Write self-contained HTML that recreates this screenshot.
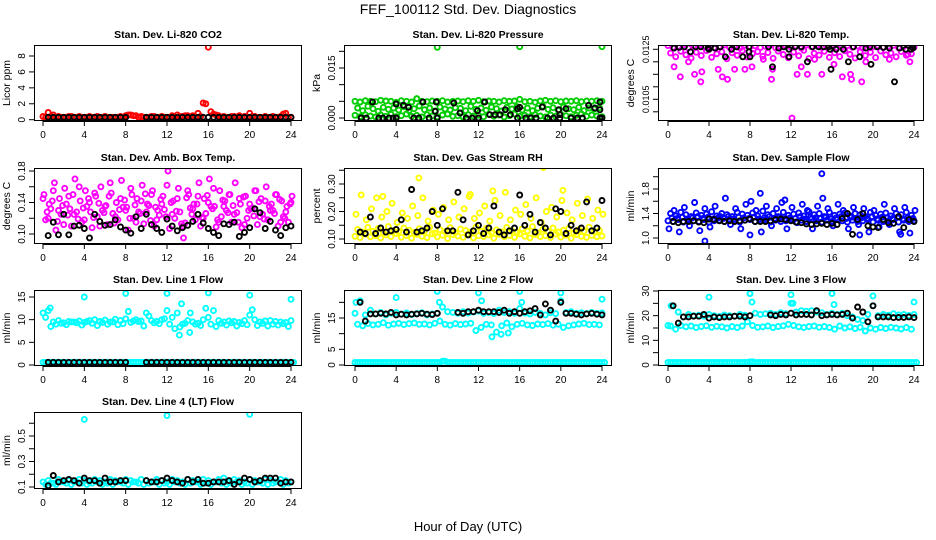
<!DOCTYPE html>
<html><head><meta charset="utf-8">
<style>
html,body{margin:0;padding:0;background:#fff;}
svg{display:block;font-family:"Liberation Sans",sans-serif;}
</style></head>
<body>
<svg id="chart" width="936" height="540" viewBox="0 0 936 540">
<text x="468" y="14" text-anchor="middle" font-size="14">FEF_100112  Std. Dev. Diagnostics</text>
<text x="468" y="531" text-anchor="middle" font-size="13">Hour of Day (UTC)</text>
</svg>
<script>
const xTicks=[0,4,8,12,16,20,24];
// ---- CO2 ----
const co2Red1=[0.4,0.9,0.6,0.4,0.3,0.4,0.3,0.4,0.3,0.4,0.3,0.3,0.4,0.3,0.3,0.4,0.5,0.6,0.5,0.4,0.3,0.4,0.3,0.4,0.3,0.5,0.6,0.4,0.5,0.5,0.8,2.1,9.1,0.7,0.5,0.4,0.3,0.4,0.5,0.4,0.8,0.4,0.3,0.4,0.3,0.3,0.4,0.8,0.3];
const co2Red2=[0.3,0.4,0.3,0.3,0.3,0.4,0.3,0.3,0.3,0.3,0.4,0.3,0.3,0.3,0.3,0.3,0.6,0.5,0.3,0.3,0.3,0.4,0.3,0.3,0.3,0.3,0.4,0.5,0.3,0.3,0.4,2.0,1.0,0.6,0.3,0.3,0.4,0.3,0.3,0.3,0.4,0.3,0.3,0.3,0.4,0.3,0.7,0.3];
const co2Black=[0.3,0.3,0.3,0.3,0.3,0.3,0.3,0.3,0.3,0.3,0.3,0.3,0.3,0.3,0.3,0.3,null,null,null,0.3,0.3,0.3,0.3,0.3,0.3,0.3,0.3,0.3,0.3,0.3,0.3,0.3,0.3,0.3,0.3,0.3,0.3,0.3,0.3,0.3,0.3,0.3,0.3,0.3,0.3,0.3,0.3,0.3];
// ---- Pressure ----
const prsGreen1=[0.0050,0.0048,0.0052,0.0050,0.0049,0.0053,0.0051,0.0050,0.0047,0.0052,0.0050,0.0048,0.0058,0.0050,0.0049,0.0051,0.0050,0.0052,0.0048,0.0050,0.0051,0.0049,0.0052,0.0050,0.0053,0.0049,0.0051,0.0050,0.0048,0.0052,0.0050,0.0051,0.0056,0.0049,0.0050,0.0047,0.0051,0.0053,0.0050,0.0052,0.0049,0.0051,0.0050,0.0052,0.0049,0.0051,0.0050,0.0052,0.0050];
const prsGreen2=[0.0030,0.0022,0.0035,0.0028,0.0020,0.0032,0.0026,0.0030,0.0024,0.0034,0.0022,0.0028,0.0036,0.0025,0.0030,0.0021,0.0033,0.0027,0.0024,0.0031,0.0029,0.0022,0.0035,0.0026,0.0030,0.0023,0.0033,0.0028,0.0021,0.0032,0.0027,0.0034,0.0024,0.0030,0.0022,0.0029,0.0035,0.0026,0.0031,0.0023,0.0033,0.0028,0.0025,0.0032,0.0022,0.0030,0.0027,0.0031];
const prsGreen3=[0.0008,0.0004,0.0010,0.0006,0.0003,0.0009,0.0005,0.0011,0.0004,0.0007,0.0012,0.0005,0.0008,0.0003,0.0010,0.0006,0.0004,0.0009,0.0012,0.0005,0.0007,0.0003,0.0010,0.0006,0.0008,0.0004,0.0011,0.0005,0.0009,0.0003,0.0007,0.0012,0.0005,0.0008,0.0004,0.0010,0.0006,0.0003,0.0009,0.0005,0.0011,0.0007,0.0004,0.0008,0.0012,0.0005,0.0009,0.0006,0.0004];
const prsGreenOut=[[8,0.0212],[16,0.0214],[24,0.0214],[6,0.0058]];
const prsBlack=[[0.6,0],[1.1,0],[1.7,0.0048],[2.3,0],[2.7,0],[3.3,0],[3.7,0],[4.0,0.0042],[4,0],[4.7,0.0038],[5.2,0.0032],[5.7,0],[6.2,0],[6.6,0.0048],[7.2,0],[7.8,0.0020],[7.9,0.0048],[8,0],[9.6,0.0045],[10.2,0.0015],[10.8,0],[11.4,0],[11.9,0.0022],[12,0],[12.6,0.0048],[13.1,0.0010],[13.6,0.0010],[14.1,0.0010],[14.6,0.0025],[15.1,0.0010],[15.8,0.0028],[15.8,0],[16.0,0.0032],[16.6,0],[17.1,0],[17.6,0],[18.2,0.0033],[18.7,0],[19.3,0],[19.8,0.0025],[19.9,0.0010],[19.9,0],[20.5,0.0028],[21,0],[21.6,0],[22.1,0],[22.7,0.0038],[23.3,0.0030],[23.8,0.0048],[23.8,0.0025],[23.8,0],[24,0]];
// ---- Li-820 Temp ----
const tmpMag1=[0.01265,0.01258,0.01262,0.01268,0.01255,0.01262,0.01266,0.01259,0.01264,0.01256,0.01261,0.01267,0.01258,0.01263,0.01255,0.01266,0.01260,0.01264,0.01257,0.01262,0.01268,0.01256,0.01261,0.01265,0.01258,0.01263,0.01255,0.01267,0.01260,0.01264,0.01257,0.01262,0.01266,0.01256,0.01261,0.01265,0.01258,0.01263,0.01255,0.01267,0.01260,0.01264,0.01257,0.01262,0.01266,0.01256,0.01261,0.01265,0.01258];
const tmpMag2=[0.01235,0.01220,0.01242,0.01228,0.01215,0.01238,0.01225,0.01245,0.01218,0.01232,0.01240,0.01212,0.01236,0.01226,0.01244,0.01219,0.01233,0.01241,0.01222,0.01237,0.01214,0.01243,0.01229,0.01216,0.01239,0.01224,0.01246,0.01213,0.01234,0.01227,0.01242,0.01218,0.01236,0.01221,0.01244,0.01230,0.01215,0.01240,0.01225,0.01238,0.01217,0.01243,0.01228,0.01235,0.01220,0.01241,0.01226,0.01232];
const tmpMagOut=[[0.6,0.0118],[1.2,0.0114],[2.0,0.0120],[2.6,0.0115],[3.2,0.0112],[3.3,0.0116],[4.9,0.0117],[5.3,0.0114],[5.8,0.0113],[6.5,0.0117],[7.5,0.0117],[8.2,0.0118],[10.1,0.0113],[10.2,0.0117],[12.1,0.00975],[12.6,0.0115],[13.0,0.0118],[13.6,0.0115],[15.0,0.0115],[16.2,0.0119],[17.0,0.0114],[17.8,0.0115],[17.9,0.0113],[18.9,0.0112],[19.3,0.0120],[23.6,0.0120],[23.4,0.0123],[14.3,0.0121],[9.3,0.0121],[21.6,0.0121]];
const tmpBlack=[[0.6,0.01255],[1.1,0.01258],[1.6,0.0126],[2.2,0.0124],[2.7,0.0126],[3.2,0.0126],[3.9,0.01255],[4.0,0.0125],[4.6,0.01255],[5.1,0.0126],[5.6,0.0122],[6.2,0.0125],[6.7,0.0126],[7.3,0.0122],[7.9,0.0126],[7.9,0.0124],[8.0,0.0122],[9.8,0.0126],[10.2,0.0118],[10.8,0.01255],[11.3,0.0126],[11.8,0.0125],[11.8,0.0122],[12.4,0.0126],[13.0,0.0126],[13.6,0.0120],[14.1,0.0126],[14.7,0.0126],[15.2,0.0126],[15.7,0.0126],[15.8,0.0125],[15.9,0.0117],[16.4,0.0125],[17.1,0.0125],[17.6,0.0120],[18.1,0.0126],[18.7,0.0122],[19.3,0.01255],[19.7,0.0126],[19.8,0.0119],[20.4,0.0126],[21.0,0.01258],[21.6,0.01255],[22.1,0.0112],[22.6,0.01255],[23.2,0.0125],[23.7,0.0125],[23.8,0.0126],[23.9,0.01255]];
// ---- Amb Box Temp ----
const ambMag1=[0.145,0.120,0.155,0.130,0.112,0.148,0.125,0.160,0.118,0.140,0.152,0.110,0.135,0.165,0.122,0.145,0.130,0.158,0.115,0.142,0.128,0.150,0.118,0.138,0.162,0.125,0.145,0.110,0.155,0.132,0.148,0.120,0.140,0.158,0.115,0.135,0.150,0.125,0.145,0.112,0.138,0.155,0.122,0.142,0.130,0.150,0.115,0.128,0.140];
const ambMag2=[0.118,0.132,0.105,0.125,0.138,0.110,0.128,0.115,0.135,0.108,0.122,0.130,0.112,0.126,0.118,0.134,0.105,0.120,0.128,0.113,0.136,0.110,0.124,0.131,0.107,0.120,0.128,0.114,0.133,0.118,0.110,0.126,0.135,0.109,0.122,0.130,0.115,0.127,0.108,0.120,0.133,0.112,0.125,0.118,0.130,0.110,0.122,0.115];
const ambMag3=[0.150,0.138,0.165,0.145,0.158,0.132,0.170,0.142,0.155,0.128,0.148,0.160,0.136,0.152,0.140,0.168,0.134,0.150,0.145,0.162,0.138,0.155,0.130,0.148,0.180,0.142,0.158,0.095,0.150,0.138,0.165,0.145,0.170,0.135,0.155,0.142,0.150,0.165,0.138,0.148,0.132,0.155,0.145,0.160,0.138,0.150,0.142,0.135,0.148];
const ambMag4=[0.128,0.142,0.116,0.136,0.124,0.150,0.119,0.133,0.145,0.121,0.139,0.127,0.148,0.114,0.131,0.143,0.120,0.137,0.126,0.151,0.117,0.134,0.144,0.122,0.140,0.129,0.113,0.146,0.125,0.138,0.121,0.149,0.132,0.118,0.143,0.127,0.136,0.115,0.147,0.130,0.123,0.141,0.119,0.135,0.126,0.144,0.120,0.138];
const ambBlack=[0.098,0.115,0.099,0.125,0.099,0.110,0.111,0.107,0.095,0.125,0.116,0.111,0.112,0.118,0.109,0.105,0.101,0.122,0.107,0.125,0.112,0.107,0.102,0.119,0.110,0.104,0.108,0.111,0.116,0.125,0.114,0.107,0.102,0.098,0.113,0.112,0.115,0.097,0.102,0.108,0.132,0.127,0.107,0.116,0.105,0.098,0.108,0.110];
// ---- Gas Stream RH ----
const rhYel1=[0.110,0.105,0.118,0.108,0.112,0.104,0.115,0.109,0.120,0.106,0.113,0.103,0.117,0.110,0.105,0.119,0.108,0.114,0.102,0.116,0.111,0.106,0.118,0.104,0.112,0.109,0.115,0.103,0.117,0.108,0.113,0.106,0.119,0.110,0.104,0.116,0.109,0.112,0.105,0.118,0.107,0.114,0.103,0.116,0.110,0.106,0.113,0.108,0.111];
const rhYel2=[0.135,0.125,0.142,0.128,0.138,0.122,0.145,0.130,0.126,0.140,0.132,0.124,0.137,0.129,0.143,0.121,0.134,0.127,0.141,0.123,0.136,0.131,0.125,0.144,0.128,0.139,0.122,0.133,0.126,0.142,0.130,0.124,0.137,0.129,0.145,0.123,0.135,0.127,0.140,0.125,0.132,0.138,0.121,0.134,0.128,0.143,0.126,0.131];
const rhYel3=[0.190,0.260,0.170,0.210,0.250,0.180,0.200,0.230,0.160,0.195,0.175,0.220,0.185,0.250,0.165,0.205,0.190,0.215,0.170,0.235,0.180,0.210,0.255,0.175,0.195,0.220,0.165,0.240,0.185,0.270,0.170,0.205,0.190,0.225,0.175,0.250,0.160,0.200,0.215,0.180,0.240,0.195,0.170,0.230,0.185,0.245,0.175,0.205,0.190];
const rhYelOut=[[6.2,0.322],[18.3,0.360],[20.2,0.277],[13.4,0.275],[11.2,0.262],[2.7,0.255]];
const rhBlack=[0.125,0.120,0.180,0.120,0.140,0.125,0.130,0.135,0.170,0.125,0.280,0.125,0.130,0.140,0.200,0.150,0.210,0.130,0.130,0.270,0.170,0.115,0.130,0.150,0.120,0.140,0.220,0.125,0.115,0.130,0.140,0.260,0.150,0.190,0.125,0.160,0.140,0.115,0.210,0.200,0.120,0.150,0.130,0.140,0.235,0.130,0.140,0.240];
// ---- Sample Flow ----
const sfBlue1=[1.28,1.27,1.30,1.26,1.29,1.28,1.27,1.30,1.26,1.28,1.29,1.27,1.31,1.28,1.26,1.29,1.30,1.27,1.28,1.30,1.26,1.29,1.27,1.28,1.30,1.26,1.29,1.27,1.31,1.28,1.26,1.29,1.27,1.30,1.28,1.26,1.29,1.27,1.28,1.30,1.26,1.29,1.27,1.28,1.30,1.26,1.29,1.27,1.28];
const sfBlue2=[1.40,1.36,1.42,1.38,1.35,1.41,1.37,1.39,1.43,1.36,1.40,1.38,1.35,1.42,1.39,1.37,1.41,1.36,1.44,1.38,1.40,1.35,1.42,1.37,1.39,1.41,1.36,1.43,1.38,1.40,1.35,1.42,1.37,1.39,1.41,1.36,1.40,1.38,1.35,1.42,1.37,1.39,1.41,1.36,1.40,1.38,1.42,1.37];
const sfBlue4=[1.33,1.32,1.34,1.31,1.33,1.35,1.32,1.34,1.31,1.33,1.32,1.35,1.31,1.34,1.33,1.32,1.34,1.31,1.33,1.35,1.32,1.34,1.31,1.33,1.32,1.35,1.31,1.34,1.33,1.32,1.34,1.31,1.33,1.35,1.32,1.34,1.31,1.33,1.32,1.35,1.31,1.34,1.33,1.32,1.34,1.31,1.33,1.32];
const sfBlue3=[1.15,1.45,1.10,1.50,1.20,1.58,1.12,1.48,1.18,1.52,1.35,1.65,1.22,1.48,1.15,1.55,1.60,1.45,1.10,1.52,1.20,1.48,1.58,1.15,1.50,1.25,1.55,1.45,1.15,1.52,1.65,1.48,1.20,1.55,1.45,1.15,1.50,1.22,1.48,1.10,1.45,1.18,1.55,1.22,1.48,1.10,1.50,1.08,1.45];
const sfBlueOut=[[15,2.05],[9,1.73],[11.4,1.62],[3.6,0.95],[18.7,1.05],[8.0,1.05],[22.7,1.06]];
const sfBlack=[1.27,1.25,1.27,1.27,1.28,1.26,1.25,1.31,1.30,1.28,1.27,1.28,1.27,1.28,1.29,1.31,1.27,1.27,1.27,1.28,1.30,1.31,1.30,1.28,1.26,1.25,1.23,1.22,1.23,1.24,1.22,1.24,1.22,1.32,1.40,1.06,1.30,1.40,1.20,1.18,1.17,1.30,1.25,1.24,1.35,1.17,1.30,1.27];
// ---- Line 1 ----
const l1Cyan1=[11.5,12.0,9.5,9.8,9.3,9.6,9.5,9.7,9.4,9.8,10.0,9.6,9.9,9.5,10.1,9.8,10.2,9.4,10.0,9.7,11.5,9.8,9.6,10.0,12.0,10.5,11.5,9.0,9.8,9.5,9.2,10.0,10.5,12.0,9.8,9.5,9.7,9.6,9.4,9.8,11.0,10.0,9.5,9.7,9.8,9.6,9.5,9.4,9.8];
const l1Cyan2=[10.5,8.5,9.0,9.2,8.9,9.5,9.3,8.8,9.6,9.2,8.7,9.4,9.0,9.5,8.9,9.1,11.8,9.7,9.6,8.6,10.8,9.3,9.1,10.2,9.0,8.0,8.4,9.2,11.5,9.0,8.7,12.5,9.0,8.5,9.2,8.8,9.3,8.6,9.1,8.9,12.2,8.7,9.2,8.6,9.0,8.8,9.1,8.5];
const l1CyanLow=[0.6,0.6,0.6,0.6,0.6,0.6,0.6,0.6,0.6,0.6,0.6,0.6,0.6,0.6,0.6,0.6,0.6,0.6,0.6,0.6,0.6,0.6,0.6,0.6,0.6,0.6,0.6,0.6,0.6,0.6,0.6,0.6,0.6,0.6,0.6,0.6,0.6,0.6,0.6,0.6,0.6,0.6,0.6,0.6,0.6,0.6,0.6,0.6,0.6];
const l1CyanOut=[[4,15],[8,15.8],[12,15.8],[16,15.9],[20,15.4],[24,14.5],[13.2,6.6],[13.4,13.5],[14.2,7.2],[0.7,12.6]];
const l1Black=[0.6,0.6,0.6,0.6,0.6,0.6,0.6,0.6,0.6,0.6,0.6,0.6,0.6,0.6,0.6,0.6,null,null,null,0.6,0.6,0.6,0.6,0.6,0.6,0.6,0.6,0.6,0.6,0.6,0.6,0.6,0.6,0.6,0.6,0.6,0.6,0.6,0.6,0.6,0.6,0.6,0.6,0.6,0.6,0.6,0.6,0.6];
// ---- Line 2 ----
const l2Cyan1=[16.5,20.5,16.0,17.5,16.3,16.8,16.0,16.5,16.8,16.2,16.6,16.1,16.4,16.7,16.0,16.3,16.5,18.5,17.0,16.8,16.5,17.0,16.6,16.9,17.2,16.5,16.8,16.4,17.5,16.8,17.0,16.5,18.0,16.6,16.3,16.8,16.5,16.0,16.7,16.4,20.5,16.8,17.0,16.5,16.7,16.4,16.8,16.5,16.6];
const l2Cyan2=[13.0,12.5,13.2,12.8,13.0,13.5,12.7,13.1,13.3,12.9,13.2,13.4,13.0,13.1,12.8,13.3,14.0,13.0,12.7,13.2,12.9,13.1,13.3,11.0,12.0,13.0,12.8,10.5,12.5,13.4,12.2,13.0,13.3,12.8,12.6,13.1,12.9,13.2,12.7,13.0,12.0,12.5,12.8,13.1,13.3,12.9,13.0,12.8];
const l2CyanLow=[0.8,0.8,0.8,0.8,0.8,0.8,0.8,0.8,0.8,0.8,0.8,0.8,0.8,0.8,0.8,0.8,0.8,1.2,0.8,0.8,0.8,0.8,0.8,0.8,0.8,0.8,0.8,0.8,0.8,0.8,0.8,0.8,0.8,0.8,0.8,0.8,0.8,0.8,0.8,0.8,0.8,0.8,0.8,0.8,0.8,0.8,0.8,0.8,0.8];
const l2CyanOut=[[4,21.5],[8,23.5],[12,23],[16,23.5],[20,23],[24,21],[13.3,9],[14.2,9.8],[14.9,10.2],[0.1,20],[8.2,20],[12.3,20.5],[16.2,20]];
const l2Black=[20.0,14.0,16.3,16.3,16.5,16.3,16.8,16.0,16.2,16.0,16.2,16.3,16.5,16.2,16.1,16.5,null,null,null,16.8,16.5,17.0,17.0,17.5,17.0,17.0,17.0,16.8,17.5,16.5,17.0,16.5,17.0,17.3,18.0,16.0,19.5,17.5,14.0,20.0,16.5,16.5,16.2,16.0,16.3,16.5,16.2,16.0];
// ---- Line 3 ----
const l3Cyan1=[16.0,24.0,21.5,19.5,20.5,20.0,20.2,19.8,20.5,20.0,19.7,20.3,20.0,19.8,20.5,20.2,29.0,21.0,20.5,20.8,21.0,20.5,21.2,20.8,25.0,21.5,22.0,21.8,22.0,21.5,21.2,20.5,21.0,20.5,21.0,20.0,19.5,18.5,18.0,20.5,24.0,20.0,20.5,20.2,20.8,20.3,20.5,20.1,20.5];
const l3Cyan2=[15.8,14.5,16.0,15.5,15.8,15.2,15.6,15.9,15.3,15.7,15.5,15.0,15.6,15.2,15.8,17.5,16.0,15.3,15.5,15.8,15.2,15.6,15.9,16.5,16.0,15.5,15.2,15.6,15.8,15.3,15.6,15.2,14.5,15.8,15.0,15.5,14.8,15.3,13.8,15.0,14.5,15.2,14.8,15.3,15.0,14.6,15.2,14.5];
const l3CyanLow=[1,1,1,1,1,1,1,1,1,1,1,1,1,1,1,1,1.3,1,1,1,1,1,1,1,1,1,1,1,1,1,1,1,1,1,1,1,1,1,1,1,1,1,1,1,1,1,1,1,1];
const l3CyanOut=[[4,27.5],[8,29],[12,28.5],[16,29],[20,28],[24,25.5],[0.3,24],[8.2,25.5],[12.2,25],[16.2,24.5]];
const l3Black=[24.0,17.0,19.5,19.5,19.8,19.8,20.5,19.0,19.5,19.2,19.5,19.5,19.8,19.8,19.5,20.0,null,null,null,20.3,20.0,20.5,20.3,21.0,20.3,20.5,20.5,20.3,22.0,20.0,20.3,20.5,20.3,20.5,21.0,19.0,23.5,21.5,17.5,24.0,19.5,19.5,19.5,19.2,19.3,19.3,19.5,19.2];
// ---- Line 4 ----
const l4Cyan1=[0.14,0.15,0.13,0.16,0.14,0.15,0.14,0.16,0.15,0.14,0.16,0.15,0.14,0.16,0.15,0.14,0.16,0.15,0.14,0.16,0.15,0.14,0.16,0.15,0.14,0.16,0.15,0.14,0.16,0.15,0.14,0.16,0.15,0.14,0.16,0.17,0.14,0.16,0.15,0.14,0.16,0.15,0.14,0.16,0.15,0.14,0.16,0.15,0.14];
const l4Cyan2=[0.12,0.13,0.12,0.14,0.13,0.12,0.14,0.13,0.12,0.13,0.14,0.12,0.13,0.12,0.14,0.13,0.12,0.14,0.13,0.12,0.13,0.14,0.12,0.13,0.12,0.14,0.13,0.12,0.13,0.14,0.12,0.13,0.12,0.14,0.13,0.12,0.13,0.14,0.12,0.13,0.12,0.14,0.13,0.12,0.13,0.14,0.12,0.13];
const l4CyanOut=[[4,0.63],[12,0.66],[20,0.67]];
const l4Black=[0.11,0.19,0.14,0.15,0.16,0.15,0.13,0.17,0.15,0.15,0.13,0.17,0.14,0.14,0.15,0.15,null,null,null,0.15,0.14,0.14,0.15,0.17,0.15,0.14,0.13,0.16,0.14,0.16,0.13,0.13,0.14,0.14,0.14,0.15,0.12,0.14,0.17,0.16,0.14,0.15,0.17,0.17,0.17,0.13,0.14,0.14];

const cols=[{L:34,R:302,x0:43,x24:291},{L:344,R:612,x0:355,x24:602},{L:658,R:924,x0:668,x24:914}];
const rows=[{T:45,B:121},{T:168,B:244},{T:290,B:366},{T:412,B:489}];
const RED='#ff0000',GRN='#00cd00',MAG='#ff00ff',YEL='#ffff00',BLU='#0000ff',CYN='#00ffff',BLK='#000000';
function S(vals,x0,dx,color){return {vals,x0,dx,color};}
function P(pts,color){return {pts,color};}
const panels=[
 {id:'co2',c:0,r:0,title:'Stan. Dev. Li-820 CO2',ylab:'Licor ppm',ys:[0,119.7,8,56],ticks:[0,2,4,6,8],labs:['0','2','4','6','8'],
  series:[S(co2Red1,0,0.5,RED),S(co2Red2,0.25,0.5,RED),S(co2Black,0.5,0.5,BLK)]},
 {id:'pressure',c:1,r:0,title:'Stan. Dev. Li-820 Pressure',ylab:'kPa',ys:[0,118,0.015,68],ticks:[0,0.005,0.01,0.015,0.02],labs:['0.000','','','0.015',''],
  series:[S(prsGreen3,0,0.5,GRN),S(prsGreen2,0.25,0.5,GRN),S(prsGreen1,0,0.5,GRN),P(prsGreenOut,GRN),P(prsBlack,BLK)]},
 {id:'li820-temp',c:2,r:0,title:'Stan. Dev. Li-820 Temp.',ylab:'degrees C',ys:[0.0125,49.3,0.0105,99.3],ticks:[0.0100,0.0105,0.0110,0.0115,0.0120,0.0125],labs:['','0.0105','','','','0.0125'],
  series:[S(tmpMag2,0.25,0.5,MAG),S(tmpMag1,0,0.5,MAG),P(tmpMagOut,MAG),P(tmpBlack,BLK)]},
 {id:'amb-box-temp',c:0,r:1,title:'Stan. Dev. Amb. Box Temp.',ylab:'degrees C',ys:[0.10,234,0.18,171],ticks:[0.10,0.12,0.14,0.16,0.18],labs:['0.10','','0.14','','0.18'],
  series:[S(ambMag1,0,0.5,MAG),S(ambMag2,0.25,0.5,MAG),S(ambMag3,0.1,0.5,MAG),S(ambMag4,0.4,0.5,MAG),S(ambBlack,0.5,0.5,BLK)]},
 {id:'gas-stream-rh',c:1,r:1,title:'Stan. Dev. Gas Stream RH',ylab:'percent',ys:[0.10,239,0.30,184],ticks:[0.10,0.15,0.20,0.25,0.30,0.35],labs:['0.10','','0.20','','0.30',''],
  series:[S(rhYel1,0,0.5,YEL),S(rhYel2,0.25,0.5,YEL),S(rhYel3,0.1,0.5,YEL),P(rhYelOut,YEL),S(rhBlack,0.5,0.5,BLK)]},
 {id:'sample-flow',c:2,r:1,title:'Stan. Dev. Sample Flow',ylab:'ml/min',ys:[1.0,238,1.8,189],ticks:[1.0,1.2,1.4,1.6,1.8,2.0],labs:['1.0','','1.4','','1.8',''],
  series:[S(sfBlue3,0.1,0.5,BLU),S(sfBlue2,0.25,0.5,BLU),S(sfBlue4,0.4,0.5,BLU),S(sfBlue1,0,0.5,BLU),P(sfBlueOut,BLU),S(sfBlack,0.5,0.5,BLK)]},
 {id:'line1-flow',c:0,r:2,title:'Stan. Dev. Line 1 Flow',ylab:'ml/min',ys:[0,365,15,297],ticks:[0,5,10,15],labs:['0','5','10','15'],
  series:[S(l1Cyan1,0,0.5,CYN),S(l1Cyan2,0.25,0.5,CYN),S(l1CyanLow,0,0.5,CYN),S(l1CyanLow,0.25,0.5,CYN),P(l1CyanOut,CYN),S(l1Black,0.5,0.5,BLK)]},
 {id:'line2-flow',c:1,r:2,title:'Stan. Dev. Line 2 Flow',ylab:'ml/min',ys:[0,365,15,318],ticks:[0,5,10,15,20],labs:['0','5','','15',''],
  series:[S(l2Cyan1,0,0.5,CYN),S(l2Cyan2,0.25,0.5,CYN),S(l2CyanLow,0,0.5,CYN),S(l2CyanLow,0.25,0.5,CYN),P(l2CyanOut,CYN),S(l2Black,0.5,0.5,BLK)]},
 {id:'line3-flow',c:2,r:2,title:'Stan. Dev. Line 3 Flow',ylab:'ml/min',ys:[0,365,30,291],ticks:[0,5,10,15,20,25,30],labs:['0','','10','','20','','30'],
  series:[S(l3Cyan1,0,0.5,CYN),S(l3Cyan2,0.25,0.5,CYN),S(l3CyanLow,0,0.5,CYN),S(l3CyanLow,0.25,0.5,CYN),P(l3CyanOut,CYN),S(l3Black,0.5,0.5,BLK)]},
 {id:'line4-flow',c:0,r:3,title:'Stan. Dev. Line 4 (LT) Flow',ylab:'ml/min',ys:[0.1,487,0.5,436],ticks:[0.1,0.2,0.3,0.4,0.5,0.6],labs:['0.1','','0.3','','0.5',''],
  series:[S(l4Cyan1,0,0.5,CYN),S(l4Cyan2,0.25,0.5,CYN),P(l4CyanOut,CYN),S(l4Black,0.5,0.5,BLK)]}
];
const NS='http://www.w3.org/2000/svg';
const svg=document.getElementById('chart');
function mk(tag,attrs,parent,text){const e=document.createElementNS(NS,tag);for(const k in attrs)e.setAttribute(k,attrs[k]);if(text!==undefined)e.textContent=text;parent.appendChild(e);return e;}
panels.forEach(p=>{
  const col=cols[p.c],row=rows[p.r];
  const xs=h=>col.x0+(col.x24-col.x0)*h/24;
  const ys=v=>p.ys[1]+(p.ys[3]-p.ys[1])*(v-p.ys[0])/(p.ys[2]-p.ys[0]);
  const g=mk('g',{},svg);
  
  
  const cx=(col.L+col.R)/2;
  const t=mk('text',{x:cx,y:row.T-7,'text-anchor':'middle','font-size':'10.5','font-weight':'bold'},g,p.title);
  
  
  const clipId='clip-'+p.id;
  const cp=mk('clipPath',{id:clipId},g);
  mk('rect',{x:col.L,y:row.T,width:col.R-col.L,height:row.B-row.T},cp);
  const pg=mk('g',{'clip-path':'url(#'+clipId+')'},g);
  
  
  p.series.forEach((s,si)=>{
    const pts=s.pts?s.pts:s.vals.map((v,i)=>[s.x0+i*s.dx,v]);
    pts.forEach(([h,v])=>{
      if(v===null)return;
      const c=mk('circle',{cx:xs(h).toFixed(1),cy:ys(v).toFixed(1),r:2.5,fill:'none',stroke:s.color,'stroke-width':1.9},pg);
      
      
    });
  });
  const box=mk('rect',{x:col.L+0.5,y:row.T+0.5,width:col.R-col.L-1,height:row.B-row.T-1,fill:'none',stroke:'#000','stroke-width':1},g);
  
  
  const xa=mk('g',{},g);
  
  
  mk('line',{x1:xs(0),x2:xs(24),y1:row.B+0.5,y2:row.B+0.5,stroke:'#000'},xa);
  xTicks.forEach(h=>{
    mk('line',{x1:xs(h),x2:xs(h),y1:row.B,y2:row.B+5,stroke:'#000'},xa);
    const tl=mk('text',{x:xs(h),y:row.B+17,'text-anchor':'middle','font-size':'10'},xa,String(h));
    
    
  });
  const ya=mk('g',{},g);
  
  
  const yt=p.ticks.map(ys);
  mk('line',{x1:col.L+0.5,x2:col.L+0.5,y1:Math.min(...yt),y2:Math.max(...yt),stroke:'#000'},ya);
  p.ticks.forEach((v,i)=>{
    const y=ys(v);
    mk('line',{x1:col.L-5,x2:col.L,y1:y,y2:y,stroke:'#000'},ya);
    if(p.labs[i]){
      const fs=p.labs[i].length>5?'9':'10';
      const tl=mk('text',{x:col.L-9,y:y,'text-anchor':'middle','font-size':fs,transform:'rotate(-90 '+(col.L-9)+' '+y+')'},ya,p.labs[i]);
      
      
    }
  });
  const ym=(row.T+row.B)/2;
  const yl=mk('text',{x:col.L-24,y:ym,'text-anchor':'middle','font-size':'10.5',transform:'rotate(-90 '+(col.L-24)+' '+ym+')'},g,p.ylab);
  
  
});
</script>
</body></html>
